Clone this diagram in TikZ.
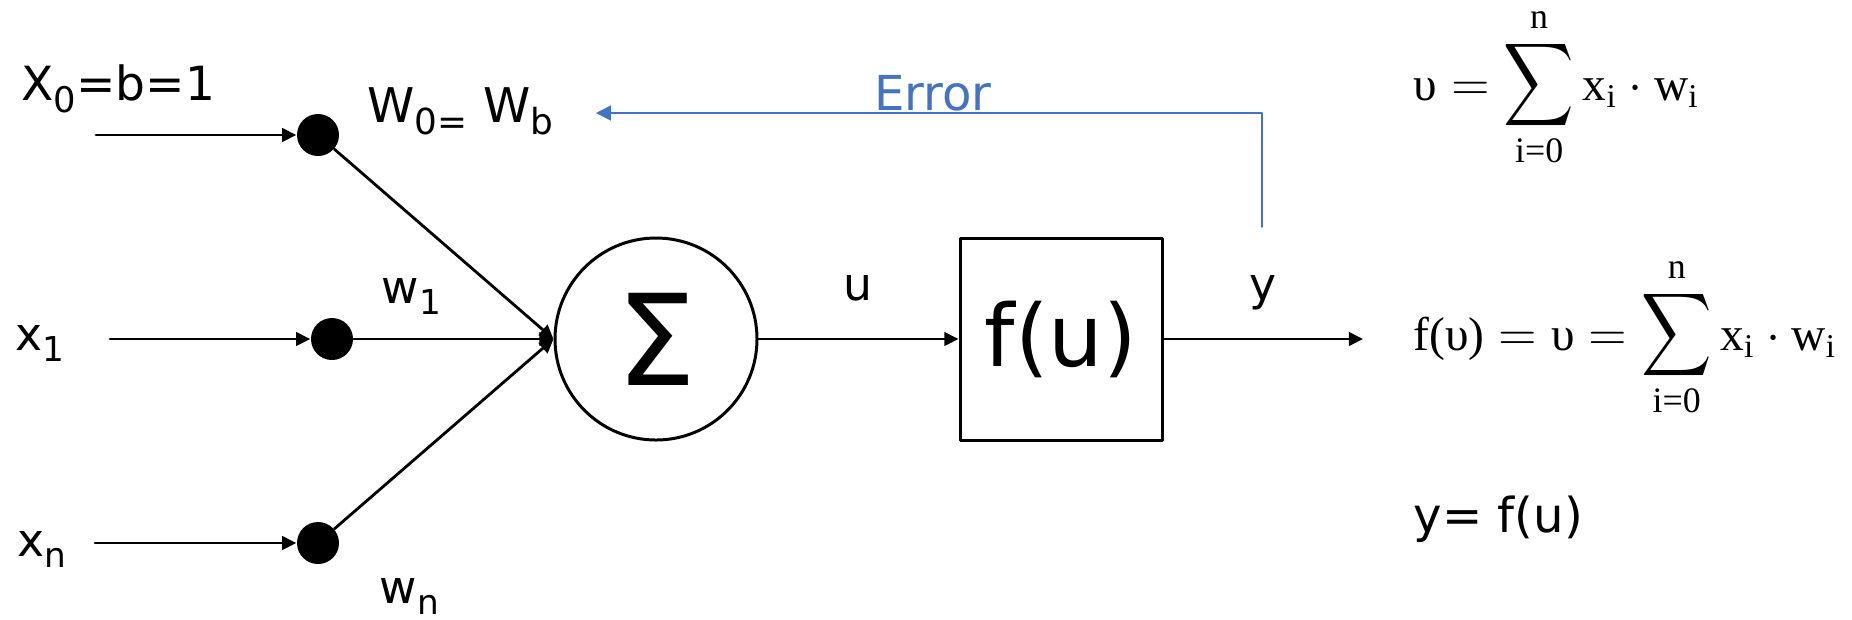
\documentclass[tikz,border=0pt]{standalone}
\usepackage{amsmath,amssymb}
\usepackage[no-math]{fontspec}
\setmainfont{DejaVu Sans}
\newfontfamily\eqfont{Liberation Serif}
\usepackage{graphicx}
\usepackage{xcolor}
\usepackage{tikz}
\usetikzlibrary{arrows.meta}
\definecolor{errblue}{HTML}{4472C4}
\newcommand{\sublo}[1]{\raisebox{-0.26em}{\scalebox{0.75}{#1}}}
\newcommand{\eqt}[1]{\text{\eqfont #1}}
\newcommand{\eqlim}[1]{\hbox{\fontsize{10.2}{12}\selectfont\eqfont #1}}
\newcommand{\bigsum}{\mathop{\scalebox{1.03}[1.22]{$\displaystyle\sum$}}\limits}
\tikzset{
  every picture/.append style={line cap=round,line join=round},
  nn arrow/.style={line width=0.8pt,-{Triangle[length=4pt,width=3.8pt]}},
  nn dot/.style={circle,fill=black,minimum size=4.2mm,inner sep=0pt},
  nn sum/.style={circle,draw,line width=0.85pt,minimum size=20.2mm,inner sep=0pt,font=\fontsize{36}{40}\selectfont},
  nn act/.style={rectangle,draw,line width=0.85pt,minimum size=20.2mm,inner sep=0pt,font=\fontsize{24.5}{28}\selectfont},
  nn label/.style={anchor=base west,inner sep=0pt,font=\fontsize{13}{16}\selectfont},
  nn error/.style={errblue,line width=0.45pt,-{Triangle[length=4.2pt,width=4.2pt]}},
  nn formula/.style={anchor=base west,inner sep=0pt,font=\fontsize{13.5}{16}\selectfont}
}

\begin{document}
\begin{tikzpicture}[x=0.1mm,y=-0.1mm]
  \useasboundingbox (0,0) rectangle (1852,619);
  % inputs and weights
  \coordinate (in0) at (96,135);
  \coordinate (in1) at (110,339);
  \coordinate (inn) at (95,543);
  \node[nn dot] (w0) at (318,135) {};
  \node[nn dot] (w1) at (332,339) {};
  \node[nn dot] (wn) at (318,543) {};
  \node[nn label,font=\fontsize{13.4}{16}\selectfont] (x0lbl) at (21,100) {X\sublo{0}=b=1};
  \node[nn label,font=\fontsize{13.6}{16}\selectfont] (w0lbl) at (367,122) {W\sublo{0=}~W\sublo{b}};
  \node[nn label] (x1lbl) at (15,350) {x\sublo{1}};
  \node[nn label] (w1lbl) at (381,303) {w\sublo{1}};
  \node[nn label] (xnlbl) at (17,556) {x\sublo{n}};
  \node[nn label] (wnlbl) at (379,603) {w\sublo{n}};
  % neuron
  \node[nn sum] (sum) at (656,339) {Σ};
  \node[nn act] (act) at (1061,339) {f(u)};
  \coordinate (out) at (1363,339);
  \node[nn label,anchor=base] (ulbl) at (858,300) {u};
  \node[nn label,anchor=base] (ylbl) at (1263,300) {y};
  \draw[nn arrow] (in0) -- (w0);
  \draw[nn arrow] (in1) -- (w1);
  \draw[nn arrow] (inn) -- (wn);
  \draw[nn arrow] (w0) -- (sum.west);
  \draw[nn arrow] (w1) -- (sum.west);
  \draw[nn arrow] (wn) -- (sum.west);
  \draw[nn arrow] (sum) -- (act);
  \draw[nn arrow] (act) -- (out);
  % error feedback
  \coordinate (errstart) at (1262,227);
  \coordinate (errend) at (596,113);
  \draw[nn error] (errstart) |- (errend);
  \node[nn label,anchor=base,text=errblue,font=\fontsize{13.7}{16}\selectfont] (errlbl) at (933,110) {Error};
  % formulas
  \node[nn formula] (eqsum) at (1413,100)
    {$\eqt{υ} = \bigsum_{\eqlim{i=0}}^{\eqlim{n}} \eqt{x}_{\eqt{i}} \cdot \eqt{w}_{\eqt{i}}$};
  \node[nn formula] (eqact) at (1413,350)
    {$\eqt{f(υ)} = \eqt{υ} = \bigsum_{\eqlim{i=0}}^{\eqlim{n}} \eqt{x}_{\eqt{i}} \cdot \eqt{w}_{\eqt{i}}$};
  \node[nn label,font=\fontsize{13.7}{16}\selectfont] (eqout) at (1413,532) {y= f(u)};
\end{tikzpicture}
\end{document}
